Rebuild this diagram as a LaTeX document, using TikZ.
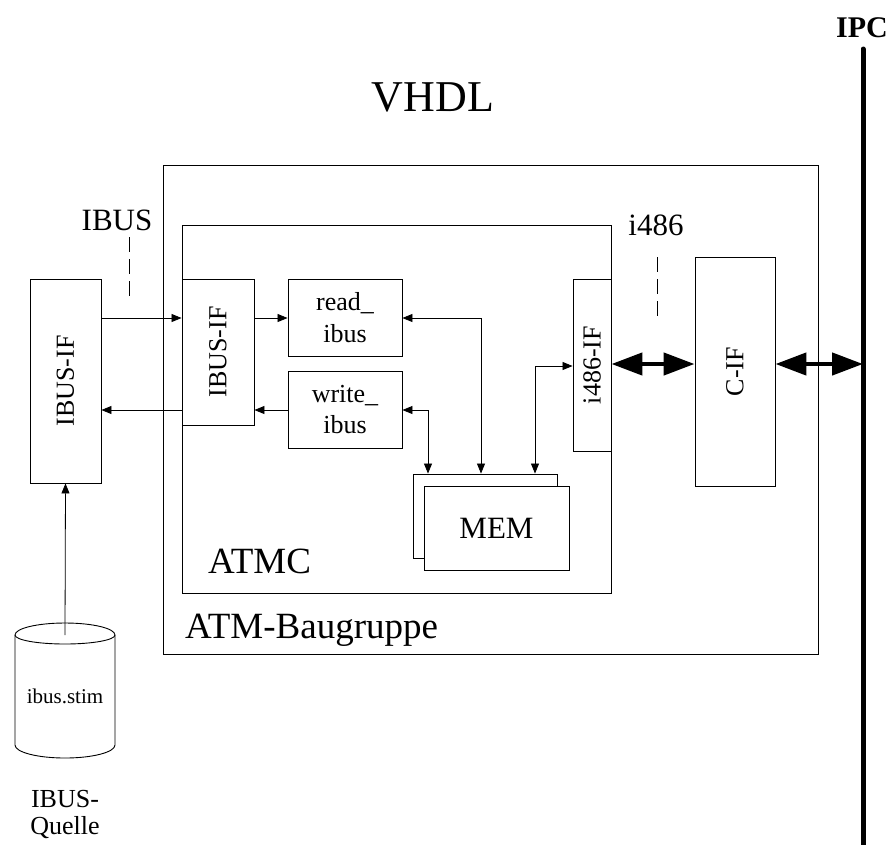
\documentclass[tikz,border=0pt]{standalone}
\usepackage{fontspec}
\setmainfont{Liberation Serif}
\usetikzlibrary{arrows.meta}
\begin{document}
\begin{tikzpicture}[x=1pt,y=-1pt,
  box/.style={draw, line width=0.9pt, inner sep=0pt, rectangle},
  arr/.style={line width=0.8pt, -{Triangle[length=10pt,width=8pt]}},
  darr/.style={line width=0.8pt, {Triangle[length=10pt,width=8pt]}-{Triangle[length=10pt,width=8pt]}},
  bigarr/.style={line width=4.5pt, {Triangle[length=31pt,width=22pt]}-{Triangle[length=31pt,width=22pt]}},
  dsh/.style={line width=0.8pt, dash pattern=on 15pt off 7pt},
  lbl/.style={inner sep=0pt, anchor=base}]
\useasboundingbox (0,0) rectangle (891,844);
% boxes
\node[box, minimum width=655pt, minimum height=489pt] (outer) at (490.5,409.5) {};
\node[box, minimum width=429pt, minimum height=368pt] (atmc) at (396.5,409) {};
\node[box, fill=white, minimum width=71pt, minimum height=204pt] (ifL) at (65.5,381) {};
\node[box, fill=white, minimum width=72pt, minimum height=146pt] (ifI) at (218,352) {};
\node[box, minimum width=114pt, minimum height=77pt] (rd) at (345,317.5) {};
\node[box, minimum width=114pt, minimum height=77pt] (wr) at (345,409.5) {};
\node[box, minimum width=38pt, minimum height=172pt] (i486) at (592,365) {};
\node[box, minimum width=144pt, minimum height=84pt] (memB) at (485,516) {};
\node[box, fill=white, minimum width=145pt, minimum height=84pt] (memF) at (496.5,528) {};
\node[box, fill=white, minimum width=80pt, minimum height=229pt] (cif) at (735,371.5) {};
% cylinder
\coordinate (stimTop) at (65,635);
\draw[line width=0.9pt, fill=white] (15,635) -- (15,745) arc[start angle=180, end angle=360, x radius=50pt, y radius=13pt] -- (115,635) arc[start angle=0, end angle=180, x radius=50pt, y radius=12pt] -- cycle;
\draw[line width=0.9pt] (15,635) arc[start angle=180, end angle=360, x radius=50pt, y radius=9pt];
% texts
\node[lbl, font=\fontsize{44}{50}\selectfont] (tVHDL) at (433,111) {VHDL};
\node[lbl, font=\bfseries\fontsize{30}{34}\selectfont] (tIPC) at (862,37) {IPC};
\node[lbl, font=\fontsize{31}{36}\selectfont] (tIBUS) at (117,230) {IBUS};
\node[lbl, font=\fontsize{31}{36}\selectfont] (ti486) at (656,235) {i486};
\node[lbl, font=\fontsize{37}{42}\selectfont, anchor=base west] (tATMC) at (208,573) {ATMC};
\node[lbl, font=\fontsize{37}{42}\selectfont, anchor=base west] (tATMB) at (185,638) {ATM-Baugruppe};
\node[lbl, font=\fontsize{31}{36}\selectfont] (tMEM) at (496.5,538) {MEM};
\node[lbl, font=\fontsize{26}{32}\selectfont] (trd1) at (345,310) {read\_};
\node[lbl, font=\fontsize{26}{32}\selectfont] (trd2) at (345,342) {ibus};
\node[lbl, font=\fontsize{26}{32}\selectfont] (twr1) at (345,402) {write\_};
\node[lbl, font=\fontsize{26}{32}\selectfont] (twr2) at (345,433) {ibus};
\node[inner sep=0pt, rotate=90, font=\fontsize{26}{30}\selectfont] (tifL) at (ifL.center) {IBUS-IF};
\node[inner sep=0pt, rotate=90, font=\fontsize{26}{30}\selectfont] (tifI) at (ifI.center) {IBUS-IF};
\node[inner sep=0pt, rotate=90, font=\fontsize{26}{30}\selectfont] (ti486if) at (i486.center) {i486-IF};
\node[inner sep=0pt, rotate=90, font=\fontsize{26}{30}\selectfont] (tcif) at (cif.center) {C-IF};
\node[lbl, font=\fontsize{21}{25}\selectfont] (tstim) at (65,703) {ibus.stim};
\node[lbl, font=\fontsize{26}{30}\selectfont] (tq1) at (65,807) {IBUS-};
\node[lbl, font=\fontsize{26}{30}\selectfont] (tq2) at (65,834) {Quelle};
% dashed markers
\coordinate (d1a) at (129,237); \coordinate (d1b) at (129,302);
\coordinate (d2a) at (657,257); \coordinate (d2b) at (657,318);
\draw[dsh] (d1a) -- (d1b);
\draw[dsh] (d2a) -- (d2b);
% IPC bus
\coordinate (ipcTop) at (863,49); \coordinate (ipcBot) at (863,850);
\draw[line width=5pt, line cap=round] (ipcTop) -- (ipcBot);
% connectors
\draw[arr] (ifL.east |- 0,318) -- (ifI.west |- 0,318);
\draw[arr] (ifI.west |- 0,410) -- (ifL.east |- 0,410);
\draw[arr] (ifI.east |- 0,318) -- (rd.west |- 0,318);
\draw[arr] (wr.west |- 0,410) -- (ifI.east |- 0,410);
\draw[darr] (rd.east |- 0,318) -| (memB.north -| 481,0);
\draw[darr] (wr.east |- 0,410) -| (memB.north -| 428,0);
\draw[darr] (i486.west |- 0,366) -| (memB.north -| 535,0);
\draw[bigarr] (i486.east |- 0,364) -- (cif.west |- 0,364);
\draw[bigarr] (cif.east |- 0,364) -- (ipcTop |- 0,364);
\draw[arr] (stimTop) -- (ifL.south);
\end{tikzpicture}
\end{document}
